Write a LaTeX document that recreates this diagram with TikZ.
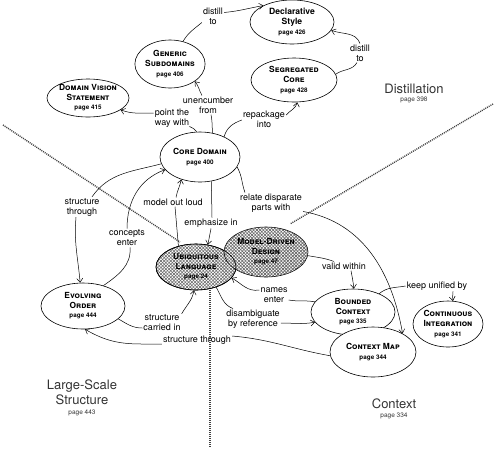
\documentclass[tikz,border=0pt]{standalone}
\usepackage{fontspec}
\setmainfont{TeX Gyre Heros}
\usetikzlibrary{shapes.geometric,arrows.meta,patterns.meta}
\newcommand\pg[1]{{\fontsize{6.3}{7}\selectfont\upshape #1}}
\begin{document}
\begin{tikzpicture}[x=1pt,y=-1pt,
  concept/.style={ellipse, draw, fill=white, line width=0.6pt, inner sep=0pt, align=center,
    font=\fontsize{8.4}{9.6}\selectfont\bfseries\scshape},
  hatched/.style={concept, preaction={fill=white},
    pattern={Lines[angle=45,distance=2.3pt,line width=0.6pt]}, pattern color=black!60,
    postaction={pattern={Lines[angle=-45,distance=2.3pt,line width=0.6pt]}, pattern color=black!60}},
  lbl/.style={align=center, font=\fontsize{9}{10}\selectfont, inner sep=1pt},
  region/.style={align=center, font=\fontsize{13}{15}\selectfont, text=black!80, inner sep=0pt},
  conn/.style={line width=0.5pt},
  arr/.style={conn, -{Straight Barb[length=4pt,width=6pt]}},
  divider/.style={line width=1.4pt, dash pattern=on 1pt off 1pt, black!75}
]
\useasboundingbox (0,0) rectangle (500,448);

% dividing lines
\coordinate (dA1) at (3,125);
\coordinate (dA2) at (180,242);
\coordinate (dB1) at (493,104);
\coordinate (dB2) at (290,224);
\coordinate (dC1) at (210,286);
\coordinate (dC2) at (210,448);
\draw[divider] (dA1) -- (dA2);
\draw[divider] (dB1) -- (dB2);
\draw[divider] (dC1) -- (dC2);

% concepts
\node[concept, minimum width=84pt, minimum height=44pt, font=\fontsize{8.6}{9.6}\selectfont\bfseries\upshape] (ds) at (292,22) {Declarative\\Style\\\pg{page 426}};
\node[concept, minimum width=86pt, minimum height=44pt] (sc) at (294,80) {Segregated\\Core\\\pg{page 428}};
\node[concept, minimum width=66pt, minimum height=48pt] (gs) at (170,64) {Generic\\Subdomains\\\pg{page 406}};
\node[concept, minimum width=82pt, minimum height=38pt] (dvs) at (88,98) {Domain Vision\\Statement\\\pg{page 415}};
\node[concept, minimum width=80pt, minimum height=50pt] (cd) at (200,157) {Core Domain\\\pg{page 400}};
\node[concept, minimum width=84pt, minimum height=46pt] (eo) at (83,306) {Evolving\\Order\\\pg{page 444}};
\node[concept, minimum width=84pt, minimum height=46pt] (bc) at (353,312) {Bounded\\Context\\\pg{page 335}};
\node[concept, minimum width=86pt, minimum height=50pt] (cm) at (373,352) {Context Map\\\pg{page 344}};
\node[concept, minimum width=70pt, minimum height=46pt] (ci) at (448,324) {Continuous\\Integration\\\pg{page 341}};
\node[hatched, minimum width=80pt, minimum height=46pt] (ul) at (196,267) {Ubiquitous\\Language\\\pg{page 24}};
\node[hatched, minimum width=84pt, minimum height=50pt] (mdd) at (266,252) {Model-Driven\\Design\\\pg{page 47}};
\draw[line width=0.6pt] (ul.center) ellipse [x radius=40, y radius=23];

% labels
\node[lbl] (l1) at (213,16) {distill\\to};
\node[lbl] (l2) at (360,53) {distill\\to};
\node[lbl] (l3) at (172,118) {point the\\way with};
\node[lbl] (l4) at (208,105) {unencumber\\from};
\node[lbl] (l5) at (264,119) {repackage\\into};
\node[lbl] (l6) at (82,207) {structure\\through};
\node[lbl] (l7) at (127,238) {concepts\\enter};
\node[lbl] (l8) at (173,202) {model out loud};
\node[lbl] (l9) at (211,223) {emphasize in};
\node[lbl] (l10) at (271,203) {relate disparate\\parts with};
\node[lbl] (l11) at (344,266) {valid within};
\node[lbl] (l12) at (437,286) {keep unified by};
\node[lbl] (l13) at (274,295) {names\\enter};
\node[lbl] (l14) at (253,319) {disambiguate\\by reference};
\node[lbl] (l15) at (162,323) {structure\\carried in};
\node[lbl] (l16) at (197,340) {structure through};

% region labels
\node[region] (rd) at (414,93) {Distillation\\[-7pt]{\fontsize{6.5}{7}\selectfont page 398}};
\node[region] (rl) at (82,398) {Large-Scale\\Structure\\[-4.5pt]{\fontsize{6.5}{7}\selectfont page 443}};
\node[region] (rc) at (394,409) {Context\\[-5.5pt]{\fontsize{6.5}{7}\selectfont page 334}};

% connectors
\draw[conn] (gs.60) to[out=60,in=220] ([yshift=3pt]l1.south west);
\draw[arr] ([yshift=-6pt]l1.north east) to[out=5,in=190] (ds.150);

\draw[conn] (sc.8) to[out=35,in=-120] ([xshift=-3pt]l2.south);
\draw[arr] (l2.north) to[out=110,in=-20] (ds.-12);

\draw[conn] (cd.97) to[out=120,in=-30] ([xshift=-1pt,yshift=2pt]l3.south east);
\draw[arr] ([yshift=5pt]l3.west) to[out=180,in=-20] (dvs.-20);

\draw[conn] (cd.63) to[out=90,in=-80] ([xshift=3pt]l4.south);
\draw[arr] ([xshift=-6pt]l4.north) to[out=120,in=-50] (gs.-35);

\draw[conn] (cd.40) to[out=75,in=-160] ([yshift=-1pt]l5.west);
\draw[arr] ([yshift=4pt]l5.east) to[out=50,in=-100] (sc.-82);

\draw[conn] (cd.190) to[out=195,in=55] ([xshift=10pt]l6.north);
\draw[arr] ([xshift=-6pt]l6.south) to[out=-95,in=95] (eo.97);

\draw[conn] (eo.45) to[out=35,in=-85] ([xshift=3pt]l7.south);
\draw[arr] (l7.north) to[out=90,in=200] (cd.200);

\draw[conn] (ul.130) -- ([xshift=2pt]l8.south);
\draw[arr] ([xshift=3pt]l8.north) to[out=80,in=-100] (cd.-130);

\draw[conn] (cd.-65) -- ([xshift=1pt]l9.north);
\draw[arr] (l9.south) -- (ul.62);

\draw[conn] (cd.-15) to[out=-60,in=110] ([xshift=6pt]l10.north west);
\draw[arr] ([yshift=2pt]l10.south east) to[out=-10,in=100] (cm.32);

\draw[conn] (mdd.-5) to[out=-10,in=160] ([xshift=-10pt]l11.north);
\draw[arr] ([xshift=7pt]l11.south) to[out=-80,in=95] (bc.88);

\draw[conn] (bc.35) to[out=40,in=190] (l12.west);
\draw[arr] ([xshift=16pt]l12.south) to[out=-90,in=100] (ci.78);

\draw[conn] (bc.165) to[out=170,in=-10] ([yshift=-5pt]l13.east);
\draw[arr] ([yshift=5pt]l13.west) to[out=190,in=-30] (ul.-17);

\draw[conn] (ul.-45) to[out=-60,in=160] ([xshift=-20pt]l14.north);
\draw[arr] ([yshift=-4pt]l14.east) to[out=0,in=190] (bc.195);

\draw[conn] (eo.-20) to[out=-30,in=180] ([yshift=-5pt]l15.west);
\draw[arr] (l15.north east) to[out=60,in=-100] (ul.-95);

\draw[conn] (cm.185) to[out=170,in=-5] ([yshift=4pt]l16.east);
\draw[arr] ([yshift=-4pt]l16.west) -- ++(-20,0) to[out=180,in=-30] (eo.-85);
\end{tikzpicture}
\end{document}
